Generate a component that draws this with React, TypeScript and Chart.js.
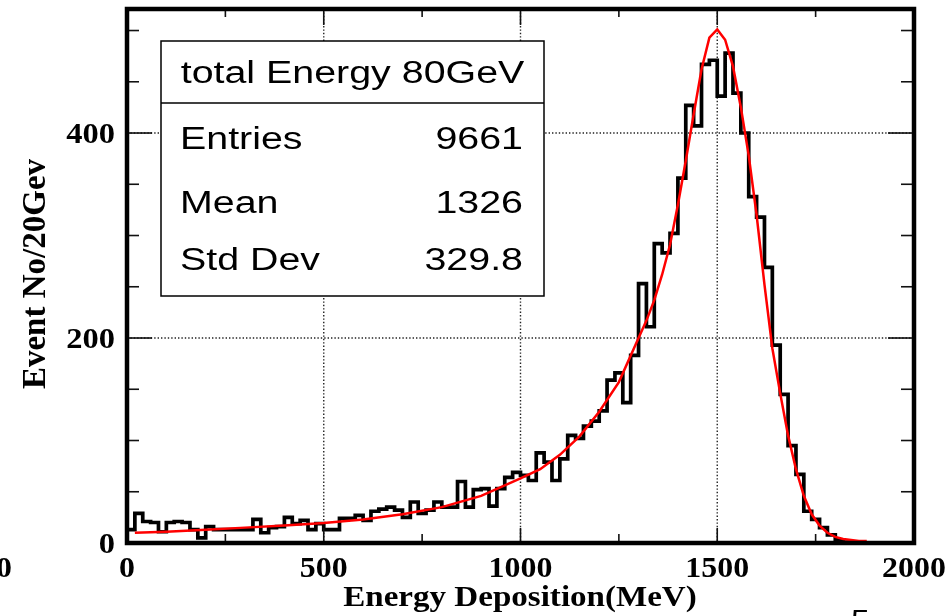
import { useEffect, useRef } from "react";
import { Chart, registerables } from "chart.js";

Chart.register(...registerables);

// Histogram: 100 bins of 20 MeV from 0 to 2000 MeV
const BIN_WIDTH = 20;
const X_MIN = 0;
const X_MAX = 2000;
const Y_MAX = 521;

const counts = [
  // 0 - 480 MeV
  13, 29, 21, 20, 11, 20, 21, 20, 13, 5, 16, 13, 13, 13, 13, 13, 23, 10, 15, 16, 25, 19, 22, 13, 19,
  // 500 - 980 MeV
  13, 13, 24, 24, 27, 22, 31, 33, 35, 32, 25, 40, 29, 32, 40, 35, 35, 60, 35, 52, 53, 36, 53, 64, 69,
  // 1000 - 1480 MeV
  66, 61, 88, 79, 61, 82, 105, 102, 114, 119, 129, 159, 166, 137, 183, 253, 211, 292, 283, 302, 356, 427, 407, 467, 471,
  // 1500 - 1980 MeV
  436, 478, 439, 400, 338, 318, 269, 193, 145, 95, 67, 31, 23, 15, 8, 3, 1, 0, 0, 0, 0, 0, 0, 0, 0,
];

// Fitted curve, sampled as a polyline
const fitEnergy = [
  20, 100, 200, 300, 400, 500, 600, 700, 800, 900, 1000, 1050, 1100, 1150, 1200, 1250, 1300, 1320, 1340, 1360,
  1380, 1400, 1420, 1440, 1460, 1480, 1500, 1520, 1540, 1560, 1580, 1600, 1620, 1640, 1660, 1680, 1700, 1720,
  1740, 1760, 1780, 1800, 1820, 1840, 1860, 1880,
];
const fitValue = [
  10, 11, 13, 15, 17, 19.5, 23, 28, 35, 46, 63, 72, 86, 104, 128, 157, 200, 217, 237, 262,
  291, 330, 373, 418, 462, 493, 501, 491, 465, 425, 378, 320, 252, 190, 146, 105, 72, 46,
  28, 17, 10, 6, 4, 3, 2, 2,
];

const xLabelValues = [0, 500, 1000, 1500, 2000];
const yLabelValues = [0, 200, 400];

const xTitle = "Energy Deposition(MeV)";
const yTitle = "Event No/20Gev";

const statsTitle = "total Energy 80GeV";
const statNames = ["Entries", "Mean", "Std Dev"];
const statValues = ["9661", "1326", "329.8"];

const SERIF_BOLD = (px: number) => `bold ${px}px "Liberation Serif", "Times New Roman", serif`;
const SANS = (px: number) => `${px}px "Liberation Sans", Arial, sans-serif`;

function drawText(
  ctx: CanvasRenderingContext2D,
  text: string,
  x: number,
  y: number,
  font: string,
  sx: number,
  align: CanvasTextAlign
) {
  ctx.save();
  ctx.font = font;
  ctx.textAlign = align;
  ctx.textBaseline = "alphabetic";
  ctx.fillStyle = "#000";
  ctx.translate(x, y);
  ctx.scale(sx, 1);
  ctx.fillText(text, 0, 0);
  ctx.restore();
}

function seg(ctx: CanvasRenderingContext2D, x1: number, y1: number, x2: number, y2: number) {
  ctx.beginPath();
  ctx.moveTo(x1, y1);
  ctx.lineTo(x2, y2);
  ctx.stroke();
}

const rootFrame = {
  id: "rootFrame",
  beforeDatasetsDraw(chart: any) {
    const { ctx, chartArea: a } = chart;
    const xs = chart.scales.x;
    const ys = chart.scales.y;
    ctx.save();
    ctx.strokeStyle = "#222";
    ctx.lineWidth = 1.4;
    ctx.setLineDash([1.4, 2]);
    for (const t of xs.ticks) {
      if (t.value % 500 === 0 && t.value > xs.min && t.value < xs.max) {
        const px = xs.getPixelForValue(t.value);
        seg(ctx, px, a.top, px, a.bottom);
      }
    }
    for (const t of ys.ticks) {
      if (t.value % 200 === 0 && t.value > ys.min && t.value < ys.max) {
        const py = ys.getPixelForValue(t.value);
        seg(ctx, a.left, py, a.right, py);
      }
    }
    ctx.restore();
  },
  afterDatasetsDraw(chart: any) {
    const { ctx, chartArea: a } = chart;
    const xs = chart.scales.x;
    const ys = chart.scales.y;

    // inward ticks on all four sides
    ctx.save();
    ctx.strokeStyle = "#111";
    ctx.lineWidth = 1.6;
    for (const t of xs.ticks) {
      if (t.value % 250 !== 0) continue;
      const px = xs.getPixelForValue(t.value);
      const major = t.value % 500 === 0;
      seg(ctx, px, a.bottom, px, a.bottom - (major ? 15 : 9));
      seg(ctx, px, a.top, px, a.top + (major ? 16 : 8));
    }
    for (const t of ys.ticks) {
      if (t.value % 50 !== 0 || t.value > ys.max) continue;
      const py = ys.getPixelForValue(t.value);
      const major = t.value % 200 === 0;
      seg(ctx, a.left, py, a.left + (major ? 25 : 12), py);
      seg(ctx, a.right, py, a.right - (major ? 26 : 13), py);
    }
    ctx.restore();

    // frame
    ctx.save();
    ctx.strokeStyle = "#000";
    ctx.lineWidth = 4.5;
    ctx.lineJoin = "miter";
    ctx.strokeRect(a.left, a.top, a.right - a.left, a.bottom - a.top);
    ctx.restore();

    // statistics box
    const bx = 161, by = 41, bw = 383, bh = 255, div = 103;
    ctx.save();
    ctx.fillStyle = "#fff";
    ctx.fillRect(bx, by, bw, bh);
    ctx.strokeStyle = "#000";
    ctx.lineWidth = 1.5;
    ctx.strokeRect(bx, by, bw, bh);
    seg(ctx, bx, div, bx + bw, div);
    ctx.restore();
    const sf = SANS(31);
    const ss = 1.27;
    drawText(ctx, statsTitle, bx + bw / 2, 83, sf, ss, "center");
    const rowBase = [149, 213, 270];
    statNames.forEach((n, i) => {
      drawText(ctx, n, 180, rowBase[i], sf, ss, "left");
      drawText(ctx, statValues[i], 523, rowBase[i], sf, ss, "right");
    });

    // axis labels
    const lf = SERIF_BOLD(29);
    for (const v of yLabelValues) {
      drawText(ctx, String(v), 115, ys.getPixelForValue(v) + 10, lf, 1.12, "right");
    }
    for (const v of xLabelValues) {
      drawText(ctx, String(v), xs.getPixelForValue(v), 577, lf, 1.1, "center");
    }
    drawText(ctx, xTitle, 520, 606, SERIF_BOLD(29), 1.14, "center");

    ctx.save();
    ctx.translate(45, 274);
    ctx.rotate(-Math.PI / 2);
    ctx.font = SERIF_BOLD(33);
    ctx.textAlign = "center";
    ctx.fillStyle = "#000";
    ctx.fillText(yTitle, 0, 0);
    ctx.restore();

    // neighbouring panel labels at the page edges
    drawText(ctx, "0", 12, 577, lf, 1.1, "right");
    drawText(ctx, "5", 851, 629, SANS(28), 1.2, "left");
  },
};

export default function App() {
  const ref = useRef<HTMLCanvasElement | null>(null);

  useEffect(() => {
    if (!ref.current) return;
    const histData = counts.map((c, i) => ({ x: X_MIN + i * BIN_WIDTH, y: c }));
    histData.push({ x: X_MAX, y: counts[counts.length - 1] });
    const fitData = fitEnergy.map((e, i) => ({ x: e, y: fitValue[i] }));

    const chart = new Chart(ref.current, {
      type: "line",
      data: {
        datasets: [
          {
            label: "fit",
            data: fitData,
            borderColor: "#ff0000",
            borderWidth: 2.5,
            pointRadius: 0,
            tension: 0,
            fill: false,
            order: 0,
          },
          {
            label: "total Energy 80GeV",
            data: histData,
            borderColor: "#000",
            borderWidth: 3.7,
            pointRadius: 0,
            stepped: true,
            fill: false,
            borderJoinStyle: "miter",
            borderCapStyle: "butt",
            order: 1,
          },
        ],
      },
      options: {
        animation: false,
        responsive: false,
        maintainAspectRatio: false,
        layout: { padding: { left: 127, right: 38, top: 9, bottom: 73 } },
        plugins: { legend: { display: false }, tooltip: { enabled: false } },
        scales: {
          x: {
            type: "linear",
            min: X_MIN,
            max: X_MAX,
            ticks: { display: false, stepSize: 250 },
            grid: { display: false },
            border: { display: false },
            afterFit: (s: any) => {
              s.height = 0;
            },
          },
          y: {
            type: "linear",
            min: 0,
            max: Y_MAX,
            ticks: { display: false, stepSize: 50 },
            grid: { display: false },
            border: { display: false },
            afterFit: (s: any) => {
              s.width = 0;
            },
          },
        },
      },
      plugins: [rootFrame],
    } as any);
    return () => chart.destroy();
  }, []);

  return (
    <div style={{ position: "absolute", left: 0, top: 0, width: 952, height: 616, background: "#fff" }}>
      <canvas ref={ref} width={952} height={616} style={{ display: "block", width: 952, height: 616 }} />
    </div>
  );
}
